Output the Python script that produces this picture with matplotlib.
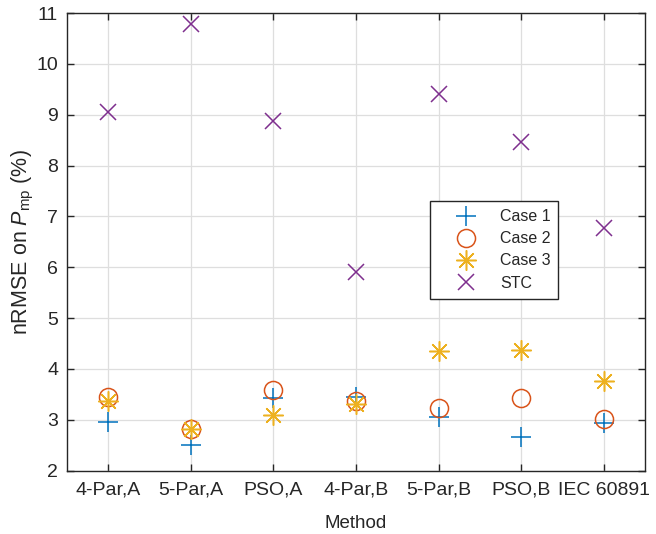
import matplotlib
matplotlib.use("Agg")
import matplotlib.pyplot as plt
import numpy as np

categories = ['4-Par,A', '5-Par,A', 'PSO,A', '4-Par,B', '5-Par,B', 'PSO,B', 'IEC 60891']
case1 = [2.96, 2.51, 3.43, 3.45, 3.06, 2.66, 2.94]
case2 = [3.45, 2.82, 3.59, 3.37, 3.24, 3.42, 3.02]
case3 = [3.38, 2.82, 3.09, 3.32, 4.35, 4.37, 3.77]
stc = [9.05, 10.78, 8.88, 5.90, 9.41, 8.47, 6.78]
y_ticks = list(range(2, 12))

plt.rcParams['font.family'] = ['Liberation Sans', 'DejaVu Sans']
plt.rcParams['mathtext.fontset'] = 'custom'
plt.rcParams['mathtext.rm'] = 'Liberation Sans'
plt.rcParams['mathtext.it'] = 'Liberation Sans:italic'

dark = '#262626'
fig = plt.figure(figsize=(6.56, 5.34), dpi=100)
ax = fig.add_axes([66.5/656, 1 - 470.7/534, (645.5-66.5)/656, (470.7-13)/534])

x = np.arange(1, len(categories) + 1)
mew = 1.1
ax.plot(x, case1, linestyle='none', marker='+', ms=14.5, mew=mew, color='#0072BD', label='Case 1')
ax.plot(x, case2, linestyle='none', marker='o', ms=13, mew=mew, mfc='none', color='#D95319', label='Case 2')
ax.plot(x, case3, linestyle='none', marker=(8, 2, 0), ms=14.5, mew=mew, color='#EDB120', label='Case 3')
ax.plot(x, stc, linestyle='none', marker='x', ms=11, mew=mew, color='#7E2F8E', label='STC')

ax.set_xlim(0.5, 7.5)
ax.set_ylim(2, 11)
ax.set_xticks(x)
ax.set_xticklabels(categories)
ax.set_yticks(y_ticks)
ax.grid(True, color='#dedede', linewidth=0.9)
ax.set_axisbelow(True)
for s in ax.spines.values():
    s.set_color(dark)
    s.set_linewidth(1.0)
ax.tick_params(direction='in', top=True, right=True, length=5, width=1.0,
               color=dark, labelcolor=dark, labelsize=14)
ax.tick_params(axis='x', pad=8)
ax.tick_params(axis='y', pad=6)
ax.set_xlabel('Method', fontsize=13.5, color=dark, labelpad=12)
ax.set_ylabel(r'nRMSE on $\mathit{P}_{\mathrm{mp}}$ (%)', fontsize=15.5, color=dark, labelpad=0)

leg = ax.legend(loc='upper left', bbox_to_anchor=(0.627, 0.589), borderaxespad=0,
                fontsize=11.5, fancybox=False, framealpha=1, edgecolor=dark,
                handlelength=3.6, handletextpad=0.3, labelspacing=0.45,
                borderpad=0.5)
leg.get_frame().set_linewidth(1.0)
for t in leg.get_texts():
    t.set_color(dark)

fig.savefig('out.png', dpi=100)
